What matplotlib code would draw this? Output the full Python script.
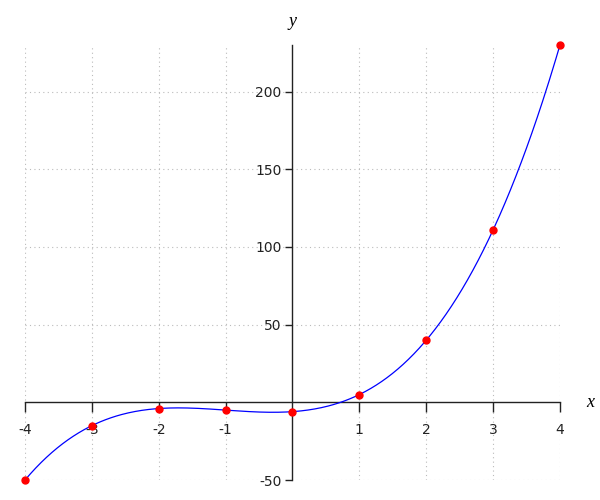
import numpy as np
import matplotlib
matplotlib.use("Agg")
import matplotlib.pyplot as plt

x_points = [-4, -3, -2, -1, 0, 1, 2, 3, 4]
y_points = [-50, -15, -4, -5, -6, 5, 40, 111, 230]
x_ticks = [-4, -3, -2, -1, 1, 2, 3, 4]
y_ticks = [-50, 50, 100, 150, 200]

fig = plt.figure(figsize=(6, 5), dpi=100)
ax = fig.add_axes([0.0417, 0.04, 0.8916, 0.87])

# smooth curve through the points (cubic through data)
coef = np.polyfit(x_points, y_points, 3)
xs = np.linspace(min(x_points), max(x_points), 400)
ax.plot(xs, np.polyval(coef, xs), color="blue", lw=0.9, zorder=3, clip_on=False)
ax.plot(x_points, y_points, "o", color="red", ms=5, zorder=4, clip_on=False)

ax.set_xlim(-4, 4)
ax.set_ylim(-50, 230)

ax.spines["left"].set_position(("data", 0))
ax.spines["bottom"].set_position(("data", 0))
ax.spines["right"].set_visible(False)
ax.spines["top"].set_visible(False)
for s in ("left", "bottom"):
    ax.spines[s].set_linewidth(1.0)
    ax.spines[s].set_color("#222222")

ax.set_xticks(x_ticks)
ax.set_xticklabels([str(t) for t in x_ticks])
ax.set_yticks(y_ticks)
ax.set_yticklabels([str(t) for t in y_ticks])
ax.tick_params(axis="x", direction="out", length=7, width=1, pad=8, labelsize=10,
               color="#222222", labelcolor="#222222")
ax.tick_params(axis="y", direction="out", length=5, width=1, pad=3, labelsize=10,
               color="#222222", labelcolor="#222222")

ax.grid(True, linestyle=(0, (1, 3)), color="#bbbbbb", lw=0.8)
ax.set_axisbelow(True)

ax.text(0, 1.053, "y", transform=ax.get_xaxis_transform(), ha="center", va="center",
        fontsize=13, fontstyle="italic", family="Liberation Serif")
ax.text(1.056, 0, "x", transform=ax.get_yaxis_transform(), ha="center", va="center",
        fontsize=13, fontstyle="italic", family="Liberation Serif")

fig.savefig("out.png", dpi=100)
